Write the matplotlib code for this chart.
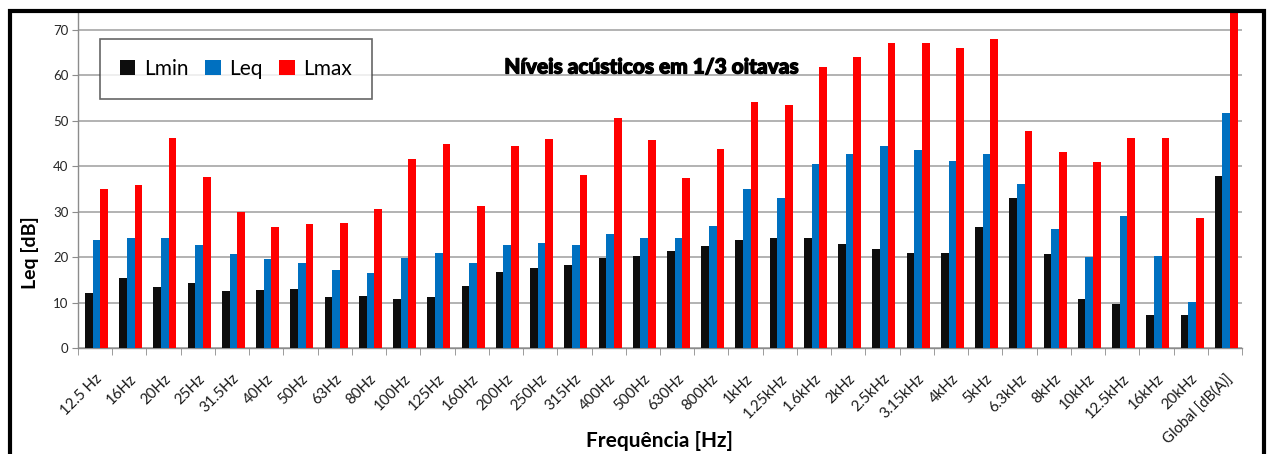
import matplotlib
matplotlib.use("Agg")
import matplotlib.pyplot as plt
import matplotlib.patheffects as pe
import numpy as np
from matplotlib.patches import Rectangle

categories = ["12.5 Hz", "16Hz", "20Hz", "25Hz", "31.5Hz", "40Hz", "50Hz", "63Hz", "80Hz",
              "100Hz", "125Hz", "160Hz", "200Hz", "250Hz", "315Hz", "400Hz", "500Hz", "630Hz",
              "800Hz", "1kHz", "1.25kHz", "1.6kHz", "2kHz", "2.5kHz", "3.15kHz", "4kHz", "5kHz",
              "6.3kHz", "8kHz", "10kHz", "12.5kHz", "16kHz", "20kHz", "Global [dB(A)]"]
lmin = [12.1, 15.5, 13.5, 14.3, 12.6, 12.8, 12.9, 11.3, 11.5, 10.7, 11.25, 13.75, 16.8, 17.6,
        18.2, 19.8, 20.3, 21.3, 22.4, 23.75, 24.3, 24.1, 22.9, 21.8, 20.8, 20.8, 26.6, 32.9,
        20.7, 10.7, 9.6, 7.35, 7.35, 37.8]
leq = [23.75, 24.1, 24.3, 22.6, 20.7, 19.6, 18.75, 17.2, 16.6, 19.9, 20.8, 18.75, 22.6, 23.2,
       22.6, 25.1, 24.1, 24.1, 26.8, 34.9, 32.9, 40.5, 42.6, 44.4, 43.5, 41.25, 42.6, 36.0,
       26.25, 20.1, 29.0, 20.3, 10.1, 51.8]
lmax = [34.9, 35.9, 46.3, 37.6, 30.0, 26.6, 27.2, 27.6, 30.5, 41.5, 44.8, 31.25, 44.4, 45.9,
        38.0, 50.7, 45.7, 37.3, 43.75, 54.1, 53.4, 61.8, 64.1, 67.2, 67.2, 66.0, 68.0, 47.8,
        43.2, 40.9, 46.3, 46.1, 28.5, 76.0]
series_names = ["Lmin", "Leq", "Lmax"]
colors = ["#0d0d0d", "#0070c0", "#ff0000"]

FONT = ["Lato", "DejaVu Sans"]
plt.rcParams['font.family'] = FONT

W, H = 1268, 454
fig = plt.figure(figsize=(W / 100, H / 100), dpi=100)
ax = fig.add_axes([78 / W, 1 - 348 / H, (1242 - 78) / W, (348 - 13) / H])

x = np.arange(len(categories))
bw = 0.224
for i, (vals, name, c) in enumerate(zip([lmin, leq, lmax], series_names, colors)):
    ax.bar(x + (i - 1) * bw + 0.04, vals, width=bw, color=c, label=name, zorder=3)

ax.set_xlim(-0.5, len(categories) - 0.5)
ax.set_ylim(0, 73.7)
ax.set_yticks(np.arange(0, 71, 10))
ax.yaxis.grid(True, color="#a6a6a6", linewidth=1.2, zorder=0)
ax.set_axisbelow(True)

for s in ["top", "right"]:
    ax.spines[s].set_visible(False)
for s in ["left", "bottom"]:
    ax.spines[s].set_color("#8c8c8c")
    ax.spines[s].set_linewidth(1.0)

ax.set_xticks(x)
ax.set_xticklabels(categories, rotation=45, ha="right", rotation_mode="anchor",
                   fontsize=10.8, color="#1a1a1a")
ax.tick_params(axis="x", length=0, pad=17)
ax.set_xticks(np.arange(-0.5, len(categories), 1), minor=True)
ax.tick_params(axis="x", which="minor", length=5, color="#8c8c8c")
ax.tick_params(axis="y", length=4, color="#8c8c8c", labelsize=9.5, labelcolor="#262626", pad=3)

leg = ax.legend(loc="upper left", bbox_to_anchor=((100 - 78) / 1164, (73.7 - (39 - 13) / 4.543) / 73.7),
                ncol=3, fontsize=15, frameon=True, fancybox=False, edgecolor="#404040",
                handlelength=0.75, handleheight=0.75, handletextpad=0.4, columnspacing=0.8,
                borderpad=0.95, borderaxespad=0)
leg.get_frame().set_linewidth(1.2)

fig.text(652 / W, 1 - 67 / H, "Níveis acústicos em 1/3 oitavas", ha="center", va="center",
         fontsize=15, fontweight="black", color="#000000",
         path_effects=[pe.withStroke(linewidth=0.9, foreground="#000000")])
fig.text(30 / W, 1 - 253 / H, "Leq [dB]", rotation=90, ha="center", va="center",
         fontsize=14, fontweight="bold")
fig.text(660 / W, 1 - 441 / H, "Frequência [Hz]", ha="center", va="center",
         fontsize=15, fontweight="bold")

# outer frame
fig.patches.append(Rectangle((9.5 / W, -0.1), (1264 - 9.5) / W, 1.1 - 11.5 / H,
                             transform=fig.transFigure, fill=False, edgecolor="#000000",
                             linewidth=3, zorder=10))

fig.savefig("out.png", dpi=100)
